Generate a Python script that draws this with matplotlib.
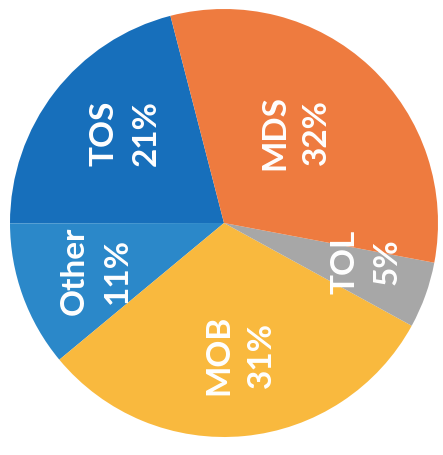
import matplotlib.pyplot as plt
import numpy as np

# slices, counter-clockwise from the TOS/MDS edge
names = ['TOS', 'Other', 'MOB', 'TOL', 'MDS']
shares = [21, 11, 31, 5, 32]
colors = ['#176fbb', '#2b88c9', '#f9b93e', '#a7a7a7', '#ee7b3f']

# label placement: fraction of radius, and turn (deg) away from the wedge middle
label_dist = [0.625, 0.64, 0.62, 0.69, 0.54]
label_turn = [-4.6, 0.7, 1.4, 4.4, 4.7]

W, H = 443, 455
cx, cy, r = 224, 223, 214

fig = plt.figure(figsize=(W / 100, H / 100), dpi=100)
ax = fig.add_axes([(cx - r) / W, (H - cy - r) / H, 2 * r / W, 2 * r / H])

wedges, _ = ax.pie(shares, colors=colors, startangle=104.5,
                   counterclock=True, radius=1.0)
ax.set_xlim(-1, 1)
ax.set_ylim(-1, 1)
ax.set_aspect('equal')
ax.axis('off')

for w, name, pct, d, t in zip(wedges, names, shares, label_dist, label_turn):
    mid = np.deg2rad((w.theta1 + w.theta2) / 2 + t)
    ax.text(d * np.cos(mid), d * np.sin(mid), f'{name}\n{pct}%',
            rotation=90, ha='center', va='center', color='white',
            fontsize=24, fontweight='bold', family=['Lato', 'DejaVu Sans'],
            linespacing=1.55, multialignment='center')

fig.savefig('out.png', dpi=100)
